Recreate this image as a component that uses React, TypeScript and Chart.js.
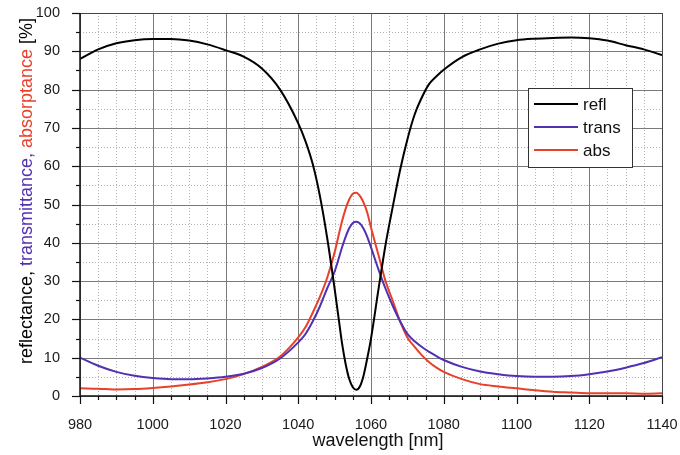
import React, { useEffect, useRef } from "react";
import { Chart, registerables } from "chart.js";

Chart.register(...registerables);

const wavelengths = [
  980, 985, 990, 995, 1000, 1005, 1010, 1015, 1020, 1025, 1030, 1035, 1040,
  1042, 1044, 1046, 1048, 1050, 1051, 1052, 1053, 1054, 1055, 1056, 1057, 1058,
  1059, 1060, 1062, 1064, 1066, 1068, 1070, 1072, 1074, 1076, 1078, 1080, 1085,
  1090, 1095, 1100, 1105, 1110, 1115, 1120, 1125, 1130, 1135, 1140,
];

const reflectance = [
  88.0, 90.5, 92.1, 92.9, 93.2, 93.2, 92.8, 91.8, 90.3, 88.6, 85.5, 80.0, 71.2,
  66.5, 60.5, 52.0, 41.0, 28.0, 21.0, 14.0, 8.5, 4.5, 2.3, 1.6, 2.6, 5.5,
  10.0, 15.0, 27.5, 39.5, 49.5, 59.0, 67.0, 73.5, 78.0, 81.5, 83.5, 85.2, 88.5,
  90.5, 92.0, 92.9, 93.3, 93.5, 93.6, 93.4, 92.8, 91.6, 90.5, 89.0,
];

const transmittance = [
  10.0, 7.9, 6.3, 5.3, 4.7, 4.4, 4.4, 4.6, 5.0, 5.8, 7.3, 9.8, 14.0,
  16.2, 19.5, 23.5, 28.2, 32.5, 35.5, 38.7, 41.5, 43.8, 45.2, 45.5, 45.0, 43.6,
  41.5, 38.8, 33.2, 28.0, 23.5, 19.5, 16.2, 14.3, 12.8, 11.5, 10.4, 9.4, 7.6,
  6.4, 5.7, 5.2, 5.0, 5.0, 5.2, 5.7, 6.4, 7.4, 8.6, 10.1,
];

const absorptance = [
  2.0, 1.9, 1.7, 1.8, 2.1, 2.5, 3.0, 3.6, 4.4, 5.7, 7.6, 10.3, 15.3,
  18.0, 21.8, 26.0, 31.0, 37.5, 41.5, 45.5, 48.8, 51.3, 52.8, 53.1, 52.2, 50.4,
  47.8, 44.0, 37.0, 30.0, 24.8, 19.5, 15.3, 12.8, 10.6, 8.8, 7.4, 6.3, 4.4,
  3.1, 2.5, 2.0, 1.5, 1.1, 0.9, 0.7, 0.7, 0.7, 0.6, 0.7,
];

const seriesLabels = ["refl", "trans", "abs"];
const seriesColors = ["#000000", "#5230b2", "#e8402a"];

const xRange = [980, 1140];
const yRange = [0, 100];
const xTickStep = 20;
const yTickStep = 10;
const xMinorStep = 5;
const yMinorStep = 5;

const xTitle = "wavelength [nm]";
const yTitleParts = [
  { text: "reflectance, ", color: "#000000" },
  { text: "transmittance, ", color: "#5230b2" },
  { text: "absorptance ", color: "#e8402a" },
  { text: "[%]", color: "#000000" },
];

const FONT = "'Liberation Sans', Arial, Helvetica, sans-serif";

const decorPlugin = {
  id: "decor",
  beforeDatasetsDraw(chart: any) {
    const { ctx, chartArea: a, scales } = chart;
    const xs = scales.x;
    const ys = scales.y;
    ctx.save();
    ctx.strokeStyle = "#b4b4b4";
    ctx.lineWidth = 1;
    ctx.setLineDash([1, 2]);
    for (let v = xRange[0]; v <= xRange[1]; v += xMinorStep) {
      if (v % xTickStep === 0) continue;
      const px = Math.round(xs.getPixelForValue(v)) + 0.5;
      ctx.beginPath();
      ctx.moveTo(px, a.top);
      ctx.lineTo(px, a.bottom);
      ctx.stroke();
    }
    for (let v = yRange[0]; v <= yRange[1]; v += yMinorStep) {
      if (v % yTickStep === 0) continue;
      const py = Math.round(ys.getPixelForValue(v)) + 0.5;
      ctx.beginPath();
      ctx.moveTo(a.left, py);
      ctx.lineTo(a.right, py);
      ctx.stroke();
    }
    ctx.setLineDash([]);
    ctx.strokeStyle = "#7a7a7a";
    for (let v = xRange[0]; v <= xRange[1]; v += xTickStep) {
      const px = Math.round(xs.getPixelForValue(v)) + 0.5;
      ctx.beginPath();
      ctx.moveTo(px, a.top);
      ctx.lineTo(px, a.bottom);
      ctx.stroke();
    }
    for (let v = yRange[0]; v <= yRange[1]; v += yTickStep) {
      const py = Math.round(ys.getPixelForValue(v)) + 0.5;
      ctx.beginPath();
      ctx.moveTo(a.left, py);
      ctx.lineTo(a.right, py);
      ctx.stroke();
    }
    ctx.restore();
  },
  afterDraw(chart: any) {
    const { ctx, chartArea: a, scales } = chart;
    const xs = scales.x;
    const ys = scales.y;
    ctx.save();
    ctx.strokeStyle = "#444444";
    ctx.lineWidth = 1;
    ctx.beginPath();
    ctx.moveTo(Math.round(a.left), Math.round(a.top) + 0.5);
    ctx.lineTo(Math.round(a.right) + 0.5, Math.round(a.top) + 0.5);
    ctx.lineTo(Math.round(a.right) + 0.5, Math.round(a.bottom));
    ctx.stroke();
    ctx.strokeStyle = "#111111";
    ctx.lineWidth = 1.5;
    ctx.beginPath();
    ctx.moveTo(Math.round(a.left), a.top);
    ctx.lineTo(Math.round(a.left), Math.round(a.bottom));
    ctx.lineTo(a.right + 1, Math.round(a.bottom));
    ctx.stroke();
    ctx.lineWidth = 1.2;
    for (let v = xRange[0]; v <= xRange[1]; v += xMinorStep) {
      const px = Math.round(xs.getPixelForValue(v)) + 0.5;
      const len = v % xTickStep === 0 ? 8 : 4;
      ctx.beginPath();
      ctx.moveTo(px, a.bottom);
      ctx.lineTo(px, a.bottom + len);
      ctx.stroke();
    }
    for (let v = yRange[0]; v <= yRange[1]; v += yMinorStep) {
      const py = Math.round(ys.getPixelForValue(v)) + 0.5;
      const len = v % yTickStep === 0 ? 8 : 4;
      ctx.beginPath();
      ctx.moveTo(a.left, py);
      ctx.lineTo(a.left - len, py);
      ctx.stroke();
    }
    const lx = 528, ly = 88, lw = 104, lh = 79;
    ctx.fillStyle = "#ffffff";
    ctx.fillRect(lx, ly, lw, lh);
    ctx.strokeStyle = "#333333";
    ctx.lineWidth = 1;
    ctx.strokeRect(lx + 0.5, ly + 0.5, lw, lh);
    ctx.font = `17px ${FONT}`;
    ctx.textBaseline = "middle";
    ctx.textAlign = "left";
    chart.data.datasets.forEach((ds: any, i: number) => {
      const yy = ly + 16 + i * 23;
      ctx.strokeStyle = ds.borderColor;
      ctx.lineWidth = 2;
      ctx.beginPath();
      ctx.moveTo(lx + 6, yy);
      ctx.lineTo(lx + 50, yy);
      ctx.stroke();
      ctx.fillStyle = "#111111";
      ctx.fillText(ds.label, lx + 55, yy + 1);
    });
    ctx.font = `18px ${FONT}`;
    ctx.fillStyle = "#111111";
    ctx.textAlign = "center";
    ctx.textBaseline = "alphabetic";
    ctx.fillText(xTitle, 378, 446);
    ctx.save();
    ctx.translate(31.5, 191);
    ctx.rotate(-Math.PI / 2);
    ctx.font = `18px ${FONT}`;
    ctx.textAlign = "left";
    const total = yTitleParts.reduce((s, p) => s + ctx.measureText(p.text).width, 0);
    let cx = -total / 2;
    for (const p of yTitleParts) {
      ctx.fillStyle = p.color;
      ctx.fillText(p.text, cx, 0);
      cx += ctx.measureText(p.text).width;
    }
    ctx.restore();
    ctx.restore();
  },
};

export default function App() {
  const canvasRef = useRef<HTMLCanvasElement | null>(null);

  useEffect(() => {
    document.body.style.margin = "0";
    const canvas = canvasRef.current;
    if (!canvas) return;
    const series = [reflectance, transmittance, absorptance];
    const chart = new Chart(canvas, {
      type: "line",
      data: {
        datasets: series.map((vals, i) => ({
          label: seriesLabels[i],
          data: wavelengths.map((w, j) => ({ x: w, y: vals[j] })),
          borderColor: seriesColors[i],
          backgroundColor: seriesColors[i],
          borderWidth: 2,
          pointRadius: 0,
          cubicInterpolationMode: "monotone" as const,
          fill: false,
        })),
      },
      options: {
        responsive: false,
        animation: false,
        devicePixelRatio: 1,
        layout: { padding: { top: 13, right: 18, left: 0, bottom: 0 } },
        plugins: {
          legend: { display: false },
          tooltip: { enabled: false },
          title: { display: false },
        },
        scales: {
          x: {
            type: "linear",
            min: xRange[0],
            max: xRange[1],
            grid: { display: false },
            border: { display: false },
            ticks: {
              stepSize: xTickStep,
              autoSkip: false,
              maxRotation: 0,
              padding: 12,
              color: "#1a1a1a",
              font: { family: FONT, size: 14.5 },
              callback: (v: any) => String(v),
            },
            afterFit(scale: any) {
              scale.height = 59;
              scale.paddingLeft = 0;
              scale.paddingRight = 0;
            },
          },
          y: {
            type: "linear",
            min: yRange[0],
            max: yRange[1],
            grid: { display: false },
            border: { display: false },
            ticks: {
              stepSize: yTickStep,
              padding: 12,
              color: "#1a1a1a",
              font: { family: FONT, size: 14.5 },
              callback: (v: any) => String(v),
            },
            afterFit(scale: any) {
              scale.width = 80;
              scale.paddingTop = 0;
              scale.paddingBottom = 0;
            },
          },
        },
      },
      plugins: [decorPlugin],
    });
    return () => chart.destroy();
  }, []);

  return (
    <div style={{ position: "absolute", left: 0, top: 0, width: 680, height: 455, background: "#fff" }}>
      <canvas ref={canvasRef} width={680} height={455} style={{ display: "block" }} />
    </div>
  );
}
